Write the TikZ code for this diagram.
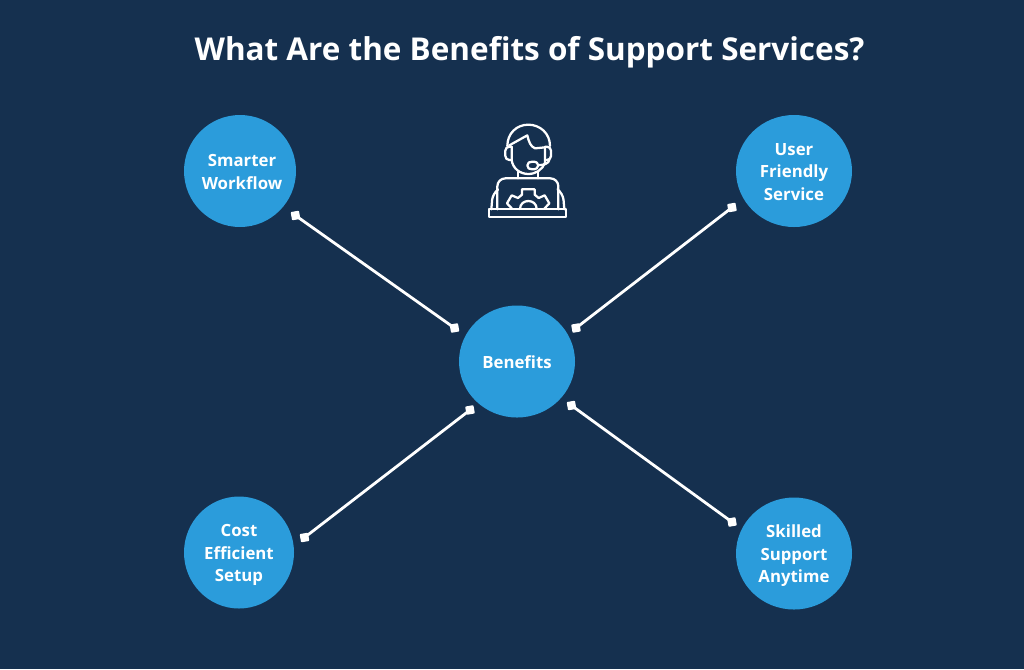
\documentclass[tikz,border=0pt]{standalone}
\usepackage{fontspec}
\usetikzlibrary{shapes.geometric}
\setmainfont{Open Sans}
\definecolor{bgnavy}{HTML}{15304F}
\definecolor{bubble}{HTML}{2B9CDB}
\tikzset{
  bubblenode/.style={ellipse,fill=bubble,minimum height=84pt,minimum width=84pt,inner sep=0pt},
  widebubble/.style={bubblenode,minimum width=87pt},
  bubbletext/.style={text=white,font=\bfseries\fontsize{12.6}{17}\selectfont,align=center,inner sep=0pt},
  endmark/.style={rectangle,fill=white,minimum size=6.3pt,inner sep=0pt,rounded corners=0.6pt,rotate=10},
  link/.style={draw=white,line width=2.1pt},
  iconline/.style={draw=white,line width=1.7pt,line join=round,line cap=round}
}
\begin{document}
\begin{tikzpicture}[x=0.75pt,y=-0.75pt]
\useasboundingbox (0,0) rectangle (1024,669);
\fill[bgnavy] (0,0) rectangle (1024,669);
\node[text=white,font=\bfseries\fontsize{23.6}{28}\selectfont] (title) at (529.5,52.5) {What Are the Benefits of Support Services?};
\node[bubblenode,label={[bubbletext,yshift=-0.75pt,xshift=1.5pt]center:Smarter\\Workflow}] (smart) at (240,171) {};
\node[widebubble,label={[bubbletext,yshift=-0.75pt]center:User\\Friendly\\Service}] (user) at (794,171) {};
\node[widebubble,label={[bubbletext,yshift=-0.75pt]center:Benefits}] (ben) at (517,361.5) {};
\node[bubblenode,minimum width=82.5pt,label={[bubbletext,yshift=-2pt]center:Cost\\Efficient\\Setup}] (cost) at (239,552.5) {};
\node[widebubble,label={[bubbletext,yshift=-1.8pt]center:Skilled\\Support\\Anytime}] (skill) at (794,553.5) {};
\node[endmark] (a1) at (295.5,215.5) {};
\node[endmark] (a2) at (454.5,328) {};
\node[endmark] (b1) at (732,207.5) {};
\node[endmark] (b2) at (576,328) {};
\node[endmark] (c1) at (304.5,537.5) {};
\node[endmark] (c2) at (470,410) {};
\node[endmark] (d1) at (732,522) {};
\node[endmark] (d2) at (571.5,405.5) {};
\draw[link] (a1.center) -- (a2.center);
\draw[link] (b1.center) -- (b2.center);
\draw[link] (c1.center) -- (c2.center);
\draw[link] (d1.center) -- (d2.center);
\begin{scope}[shift={(470,110)},x=0.25pt,y=-0.25pt]
  % headband
  \draw[iconline] (112,108) .. controls (112,70) and (140,44) .. (175,44) .. controls (210,44) and (240,70) .. (240,108);
  % ear pads
  \draw[iconline,rounded corners=3pt] (125,110) -- (106,110) -- (106,150) -- (125,150);
  \draw[iconline,rounded corners=3pt] (225,110) -- (243,110) -- (243,150) -- (225,150);
  % face and hair
  \draw[iconline] (125,110) -- (125,150) .. controls (128,175) and (150,192) .. (175,192) .. controls (198,192) and (218,178) .. (225,158) -- (225,112);
  \draw[iconline] (118,106) -- (172,76) .. controls (176,95) and (182,110) .. (195,115) -- (225,112);
  % microphone
  \draw[iconline] (238,150) .. controls (236,160) and (222,166) .. (205,165);
  \draw[iconline] (172,166.5) .. controls (172,158) and (178,155) .. (187,155) .. controls (198,155) and (205,158) .. (205,166) .. controls (205,174) and (198,178) .. (187,178) .. controls (178,178) and (172,175) .. (172,166.5) -- cycle;
  % neck and torso
  \draw[iconline] (145,186) -- (145,205);
  \draw[iconline] (205,186) -- (205,205);
  \draw[iconline,rounded corners=6pt] (82,298) -- (82,205) -- (265,205) -- (265,298);
  \draw[iconline,rounded corners=5pt] (82,240) -- (68,250) -- (64,298);
  \draw[iconline,rounded corners=5pt] (265,240) -- (279,250) -- (283,298);
  % desk
  \draw[iconline] (58,298) rectangle (288,320);
  % gear
  \draw[iconline] (126,296) -- (111,280) -- (125,256) -- (144,264) -- (156,254) -- (156,238) -- (194,238) -- (194,254) -- (206,264) -- (224,256) -- (238,280) -- (223,296);
  \draw[iconline] (150,297) .. controls (150,265) and (200,265) .. (200,297);
\end{scope}
\end{tikzpicture}
\end{document}
